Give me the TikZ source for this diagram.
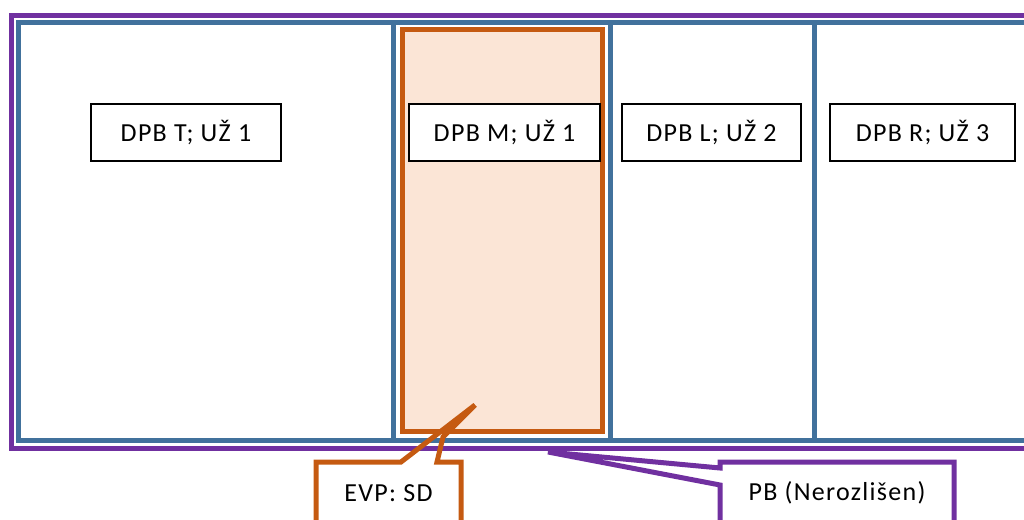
\documentclass[tikz,border=0pt]{standalone}
\usepackage{fontspec}
\setmainfont{Carlito}[LetterSpace=5]
\definecolor{bblue}{HTML}{41719C}
\definecolor{ppurple}{HTML}{7030A0}
\definecolor{oorange}{HTML}{C55A11}
\definecolor{peach}{HTML}{FBE5D6}
\begin{document}
\begin{tikzpicture}[x=1pt,y=-1pt,
  panel/.style={draw=bblue,line width=5pt},
  outerframe/.style={draw=ppurple,line width=5pt},
  evpframe/.style={draw=oorange,line width=5pt,fill=peach},
  lbl/.style={draw=black,line width=1.6pt,fill=white,minimum width=#1,minimum height=57pt,inner sep=0pt,font=\fontsize{26}{30}\selectfont},
  callout/.style={line width=5pt,line join=miter},
  ctext/.style={font=\fontsize{26}{30}\selectfont,inner sep=0pt}]
\useasboundingbox (0,0) rectangle (1024,519);
\clip (0,0) rectangle (1024,519);
% outer purple frame
\draw[outerframe] (11,15.5) rectangle (1040,448);
% blue panels
\draw[panel] (18,23) rectangle (393,440);
\draw[panel] (393,23) rectangle (610,440);
\draw[panel] (610,23) rectangle (814,440);
\draw[panel] (814,23) rectangle (1040,440);
% orange highlighted column
\draw[evpframe] (402,30) rectangle (602,431);
% labels
\node[lbl=190pt] (t) at (186,132.5) {DPB T; UŽ 1};
\node[lbl=191pt] (m) at (504.5,132.5) {DPB M; UŽ 1};
\node[lbl=179pt] (l) at (711.5,132.5) {DPB L; UŽ 2};
\node[lbl=185pt] (r) at (922.5,132.5) {DPB R; UŽ 3};
% callout EVP
\coordinate (evptip) at (475,405);
\draw[callout,draw=oorange] (316,540) -- (316,462) -- (401,462) -- (evptip) -- (443,437) -- (437,462) -- (461,462) -- (461,540);
\node[ctext] (evp) at (388.5,493) {EVP: SD};
% callout PB
\coordinate (pbtip) at (548,452);
\draw[callout,draw=ppurple] (720,540) -- (720,485) -- (pbtip) -- (720,468) -- (720,462) -- (954,462) -- (954,540);
\node[ctext] (pb) at (837,493) {PB (Nerozlišen)};
\end{tikzpicture}
\end{document}
